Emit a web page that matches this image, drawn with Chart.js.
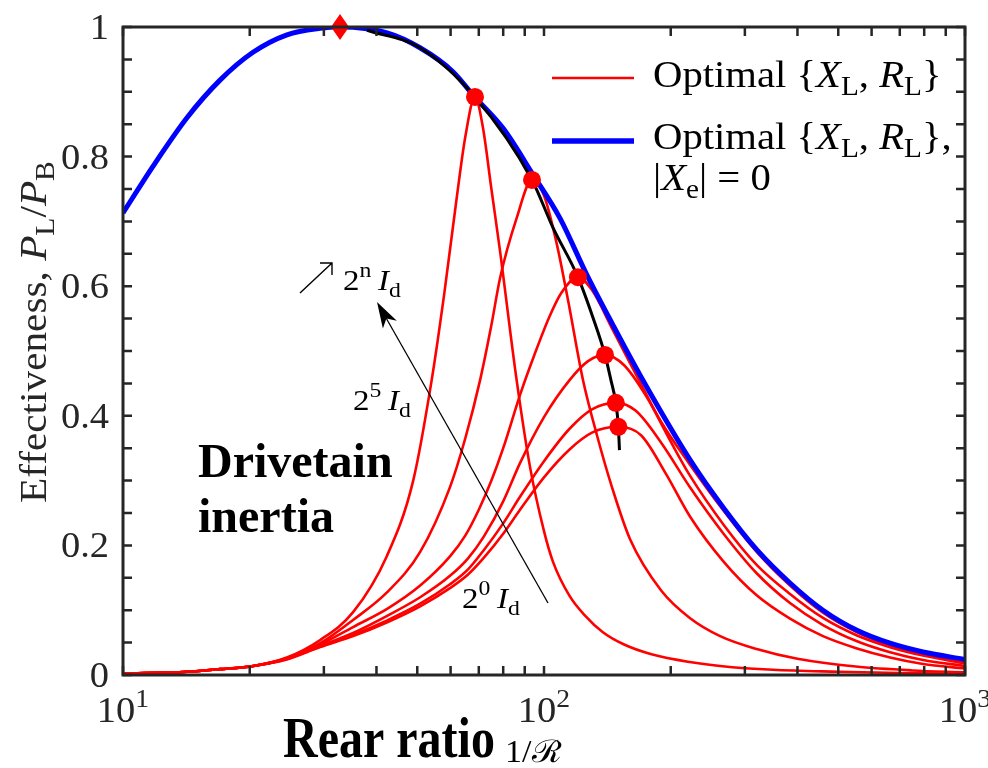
<!DOCTYPE html>
<html>
<head>
<meta charset="utf-8">
<script src="https://cdn.jsdelivr.net/npm/chart.js@4.4.0/dist/chart.umd.min.js"></script>
<style>
  html, body { margin: 0; padding: 0; background: #fff; }
  canvas { display: block; }
</style>
</head>
<body>
<canvas id="chart" width="988" height="768"></canvas>
<script>
// axis ticks
const xMajorTicks = [10, 100, 1000];
const xTickExponents = ['1', '2', '3'];
const xMinorTicks = [20, 30, 40, 50, 60, 70, 80, 90, 200, 300, 400, 500, 600, 700, 800, 900];
const yTickValues = [0, 0.2, 0.4, 0.6, 0.8, 1];
const yTickLabels = ['0', '0.2', '0.4', '0.6', '0.8', '1'];
const yMinorTicks = [0.05, 0.1, 0.15, 0.25, 0.3, 0.35, 0.45, 0.5, 0.55, 0.65, 0.7, 0.75, 0.85, 0.9, 0.95];

// optimal {XL, RL} with |Xe| = 0 (blue)
const envelopeZeroXe = [
  [10, 0.713], [11.78, 0.785], [14.19, 0.86], [17, 0.918], [20.36, 0.961], [24.52, 0.988],
  [29.38, 0.998], [32.76, 1.0], [42.38, 0.991], [50.76, 0.968], [60.78, 0.931], [67.83, 0.895],
  [79.9, 0.844], [94.2, 0.772], [109.1, 0.705], [126.5, 0.617], [145.8, 0.54], [169, 0.463],
  [222.3, 0.332], [266.2, 0.259], [320.5, 0.193], [384, 0.142], [459.8, 0.1], [553.8, 0.069],
  [663.6, 0.049], [794.8, 0.0355], [1000, 0.024]
];

// optimal {XL, RL} for drivetrain inertia 2^n Id (red), n = 5 .. 0
const inertiaExp = [5, 4, 3, 2, 1, 0];
const curveI5 = [
  [10, 0.002], [14.2, 0.005], [17, 0.009], [20.4, 0.014], [24.5, 0.027], [29.4, 0.054],
  [35.2, 0.097], [42.3, 0.183], [48.9, 0.30], [54.1, 0.455], [58, 0.59], [62, 0.735],
  [65, 0.83], [68.56, 0.892], [71.6, 0.845], [75, 0.75], [78.6, 0.655], [86.1, 0.455],
  [92.7, 0.32], [100, 0.222], [105, 0.175], [115, 0.122], [125, 0.092], [138, 0.066],
  [155, 0.047], [180, 0.032], [222, 0.02], [262, 0.014], [350, 0.008], [500, 0.005],
  [700, 0.003], [1000, 0.002]
];
const curveI4 = [
  [10, 0.002], [14.2, 0.005], [17, 0.009], [20.4, 0.014], [24.5, 0.026], [29.4, 0.049],
  [35.2, 0.085], [42.3, 0.127], [50.8, 0.19], [59.8, 0.29], [65, 0.365], [70.5, 0.455],
  [75, 0.54], [78.6, 0.612], [86.1, 0.705], [93.65, 0.764], [100, 0.74], [107, 0.668],
  [114, 0.579], [123.8, 0.455], [133.6, 0.37], [145, 0.29], [160, 0.21], [190, 0.13],
  [222, 0.088], [262, 0.06], [320, 0.04], [400, 0.025], [550, 0.013], [750, 0.007], [1000, 0.004]
];
const curveI3 = [
  [10, 0.002], [14.2, 0.005], [17, 0.009], [20.4, 0.014], [24.5, 0.025], [29.4, 0.047],
  [35.2, 0.074], [42.4, 0.102], [50.8, 0.138], [59.8, 0.183], [65, 0.215], [70, 0.255],
  [75, 0.30], [80, 0.35], [88, 0.435], [95, 0.495], [103, 0.553], [110, 0.59],
  [120.4, 0.614], [130, 0.594], [145.8, 0.532], [169, 0.452], [190, 0.39], [222, 0.325],
  [266, 0.255], [320, 0.19], [384, 0.138], [460, 0.096], [554, 0.066], [664, 0.046],
  [795, 0.033], [1000, 0.021]
];
const curveI2 = [
  [10, 0.002], [14.2, 0.005], [17, 0.009], [20.4, 0.014], [24.5, 0.025], [29.4, 0.045],
  [35.2, 0.065], [42.3, 0.091], [50.8, 0.12], [59.8, 0.153], [66, 0.18], [72, 0.214],
  [80, 0.268], [87.7, 0.327], [100, 0.398], [115, 0.455], [127, 0.484], [139.6, 0.494],
  [155, 0.478], [175, 0.43], [200, 0.36], [222, 0.308], [267, 0.232], [320, 0.17],
  [384, 0.125], [460, 0.088], [554, 0.061], [664, 0.043], [795, 0.03], [1000, 0.018]
];
const curveI1 = [
  [10, 0.002], [14.2, 0.005], [17, 0.009], [20.4, 0.014], [24.5, 0.025], [29.4, 0.044],
  [35.2, 0.062], [42.3, 0.084], [50.8, 0.11], [59.8, 0.14], [66, 0.163], [72, 0.193],
  [80, 0.234], [87.7, 0.275], [100, 0.33], [115, 0.38], [130, 0.41], [148.1, 0.42],
  [165, 0.408], [190, 0.358], [222, 0.29], [267, 0.218], [320, 0.157], [384, 0.111],
  [460, 0.077], [554, 0.052], [664, 0.035], [795, 0.023], [1000, 0.014]
];
const curveI0 = [
  [10, 0.002], [14.2, 0.005], [17, 0.009], [20.4, 0.014], [24.5, 0.024], [29.4, 0.043],
  [35.2, 0.06], [42.3, 0.081], [50.8, 0.106], [59.8, 0.134], [66, 0.155], [72, 0.181],
  [80, 0.218], [87.7, 0.255], [100, 0.305], [115, 0.348], [130, 0.374], [150.2, 0.383],
  [170, 0.37], [195, 0.31], [222, 0.245], [267, 0.175], [320, 0.123], [384, 0.087],
  [460, 0.06], [554, 0.041], [664, 0.027], [795, 0.017], [1000, 0.01]
];

// peak of each red curve and the locus through them (black)
const peakDots = [[68.56, 0.892], [93.65, 0.764], [120.4, 0.614], [139.6, 0.494], [148.1, 0.42], [150.2, 0.383]];
const peakLocus = [
  [37.98, 0.995], [50.76, 0.968], [68.56, 0.892], [93.65, 0.764], [105.1, 0.69], [120.4, 0.614],
  [130.8, 0.551], [139.6, 0.494], [144.2, 0.455], [148.1, 0.42], [150.2, 0.383], [151.1, 0.347]
];
const globalOptimum = [[32.76, 1.0]];

const RED = '#ff0000';
const BLUE = '#0000ff';
const AXIS = '#262626';
const FAMILY = "'Liberation Serif', 'DejaVu Serif', serif";
const CM_STRETCH = 1.1;   // Liberation Serif is narrower than the LaTeX font

const toPts = arr => arr.map(([x, y]) => ({ x, y }));

// tall red diamond marker
function makeDiamond() {
    const c = document.createElement('canvas');
    c.width = 20;
    c.height = 26;
    const g = c.getContext('2d');
    g.fillStyle = RED;
    g.beginPath();
    g.moveTo(10, 0);
    g.lineTo(19, 13);
    g.lineTo(10, 26);
    g.lineTo(1, 13);
    g.closePath();
    g.fill();
    return c;
}

// text made of pieces: 'r' roman, 'i' italic, 'b' bold, 'sub', 'sup', 'gap' (blank px)
function drawRich(ctx, parts, x, y, size, align, sx = 1, sy = 1) {
    const spec = p => {
        const kind = p[1];
        const small = kind === 'sub' || kind === 'sup';
        const s = small ? size * 0.72 : size;
        const style = kind === 'i' ? 'italic ' : '';
        const weight = kind === 'b' ? 'bold ' : '';
        const dy = kind === 'sub' ? size * 0.22 : kind === 'sup' ? -size * 0.42 : 0;
        return { font: style + weight + s + 'px ' + FAMILY, dy };
    };
    ctx.save();
    ctx.textAlign = 'left';
    ctx.textBaseline = 'alphabetic';
    let total = 0;
    const widths = parts.map(p => {
        if (p[1] === 'gap') { total += p[0]; return p[0]; }
        ctx.font = spec(p).font;
        const w = ctx.measureText(p[0]).width;
        total += w;
        return w;
    });
    const start = align === 'center' ? -total / 2 : align === 'right' ? -total : 0;
    ctx.translate(x, y);
    ctx.scale(sx, sy);
    let cx = start;
    parts.forEach((p, i) => {
        if (p[1] !== 'gap') {
            const sp = spec(p);
            ctx.font = sp.font;
            ctx.fillText(p[0], cx, sp.dy);
        }
        cx += widths[i];
    });
    ctx.restore();
}

const paperPlugin = {
    id: 'paper',
    beforeDraw(chart) {
        const ctx = chart.ctx;
        ctx.save();
        ctx.fillStyle = '#fff';
        ctx.fillRect(0, 0, chart.width, chart.height);
        ctx.restore();
    },
    afterDraw(chart) {
        const ctx = chart.ctx;
        const { left, right, top, bottom } = chart.chartArea;
        const xs = chart.scales.x;
        const ys = chart.scales.y;
        ctx.save();

        // frame and inward ticks on all four sides
        ctx.strokeStyle = AXIS;
        ctx.lineWidth = 2.5;
        const tick = 9;
        ctx.beginPath();
        [...xMajorTicks, ...xMinorTicks].forEach(v => {
            const px = xs.getPixelForValue(v);
            ctx.moveTo(px, bottom);
            ctx.lineTo(px, bottom - tick);
            ctx.moveTo(px, top);
            ctx.lineTo(px, top + tick);
        });
        [...yTickValues, ...yMinorTicks].forEach(v => {
            const py = ys.getPixelForValue(v);
            ctx.moveTo(left, py);
            ctx.lineTo(left + tick, py);
            ctx.moveTo(right, py);
            ctx.lineTo(right - tick, py);
        });
        ctx.stroke();
        ctx.lineWidth = 3;
        ctx.strokeRect(left, top, right - left, bottom - top);

        // tick labels
        ctx.fillStyle = AXIS;
        yTickValues.forEach((v, i) => {
            drawRich(ctx, [[yTickLabels[i], 'r']], left - 14, ys.getPixelForValue(v) + 12, 35, 'right', CM_STRETCH);
        });
        xMajorTicks.forEach((v, i) => {
            drawRich(ctx, [['10', 'r'], [xTickExponents[i], 'sup']], xs.getPixelForValue(v), bottom + 47, 35, 'center', CM_STRETCH);
        });

        // axis titles
        ctx.save();
        ctx.translate(46, 332);
        ctx.rotate(-Math.PI / 2);
        drawRich(ctx, [['Effectiveness, ', 'r'], ['P', 'i'], ['L', 'sub'], ['/', 'r'], ['P', 'i'], ['B', 'sub']], 0, 0, 37.5, 'center', CM_STRETCH);
        ctx.restore();
        ctx.fillStyle = '#000';
        drawRich(ctx, [['Rear ratio', 'b']], 283, 757, 48, 'left', 1, 1.2);
        drawRich(ctx, [['1/\u211B', 'r']], 505, 762, 31, 'left', CM_STRETCH);

        // legend
        const legendLines = [
            { color: RED, width: 2.6, y: 78 },
            { color: BLUE, width: 5.5, y: 141 }
        ];
        legendLines.forEach(l => {
            ctx.strokeStyle = l.color;
            ctx.lineWidth = l.width;
            ctx.beginPath();
            ctx.moveTo(552, l.y);
            ctx.lineTo(634, l.y);
            ctx.stroke();
        });
        ctx.fillStyle = '#000';
        const optimal = [['Optimal {', 'r'], ['X', 'i'], ['L', 'sub'], [', ', 'r'], ['R', 'i'], ['L', 'sub'], ['}', 'r']];
        drawRich(ctx, optimal, 653, 87, 37, 'left', CM_STRETCH);
        drawRich(ctx, [...optimal, [',', 'r']], 653, 149, 37, 'left', CM_STRETCH);
        drawRich(ctx, [['|', 'r'], ['X', 'i'], ['e', 'sub'], ['| = 0', 'r']], 653, 190, 37, 'left', CM_STRETCH);

        // inertia annotations
        drawRich(ctx, [['Drivetain', 'b']], 198, 477, 48, 'left');
        drawRich(ctx, [['inertia', 'b']], 198, 532, 48, 'left');
        const inertiaLabel = n => [['2', 'r'], [String(n), 'sup'], [6, 'gap'], ['I', 'i'], ['d', 'sub']];
        drawRich(ctx, inertiaLabel('n'), 343, 290, 30, 'left', CM_STRETCH);
        drawRich(ctx, inertiaLabel(inertiaExp[0]), 353, 410, 30, 'left', CM_STRETCH);
        drawRich(ctx, inertiaLabel(inertiaExp[5]), 462, 608, 30, 'left', CM_STRETCH);

        // small open arrow before 2^n Id
        ctx.strokeStyle = '#000';
        ctx.lineWidth = 1.4;
        ctx.beginPath();
        ctx.moveTo(300, 293);
        ctx.lineTo(332, 263);
        ctx.moveTo(320, 263);
        ctx.lineTo(332, 263);
        ctx.lineTo(332, 275);
        ctx.stroke();

        // long arrow across the curves
        const tail = { x: 548, y: 603 };
        const tip = { x: 377, y: 302 };
        const dx = tip.x - tail.x, dy = tip.y - tail.y;
        const len = Math.hypot(dx, dy);
        const ux = dx / len, uy = dy / len;
        const px = -uy, py = ux;
        ctx.lineWidth = 1.3;
        ctx.beginPath();
        ctx.moveTo(tail.x, tail.y);
        ctx.lineTo(tip.x - ux * 15, tip.y - uy * 15);
        ctx.stroke();
        ctx.fillStyle = '#000';
        ctx.beginPath();
        ctx.moveTo(tip.x, tip.y);
        ctx.lineTo(tip.x - ux * 26 + px * 8, tip.y - uy * 26 + py * 8);
        ctx.lineTo(tip.x - ux * 19, tip.y - uy * 19);
        ctx.lineTo(tip.x - ux * 26 - px * 8, tip.y - uy * 26 - py * 8);
        ctx.closePath();
        ctx.fill();

        ctx.restore();
    }
};

const redCurves = [curveI5, curveI4, curveI3, curveI2, curveI1, curveI0];
const lineBase = { pointRadius: 0, fill: false, cubicInterpolationMode: 'monotone' };

new Chart(document.getElementById('chart'), {
    type: 'line',
    data: {
        datasets: [
            { label: 'optimum', data: toPts(globalOptimum), pointStyle: makeDiamond(), pointRadius: 10, showLine: false, clip: false, order: 0 },
            { label: 'peaks', data: toPts(peakDots), pointRadius: 9, pointBackgroundColor: RED, pointBorderWidth: 0, showLine: false, order: 1 },
            { ...lineBase, label: 'locus', data: toPts(peakLocus), borderColor: '#000', borderWidth: 3, order: 2 },
            { ...lineBase, label: 'Xe0', data: toPts(envelopeZeroXe), borderColor: BLUE, borderWidth: 5, order: 3 },
            ...redCurves.map((c, i) => ({
                ...lineBase,
                label: '2^' + inertiaExp[i] + ' Id',
                data: toPts(c),
                borderColor: RED,
                borderWidth: 2.6,
                order: 4
            }))
        ]
    },
    options: {
        responsive: false,
        devicePixelRatio: 1,
        animation: false,
        layout: { padding: { left: 123, top: 27, right: 23, bottom: 93 } },
        plugins: {
            legend: { display: false },
            tooltip: { enabled: false }
        },
        scales: {
            x: { type: 'logarithmic', min: 10, max: 1000, display: false },
            y: { type: 'linear', min: 0, max: 1, display: false }
        }
    },
    plugins: [paperPlugin]
});
</script>
</body>
</html>
